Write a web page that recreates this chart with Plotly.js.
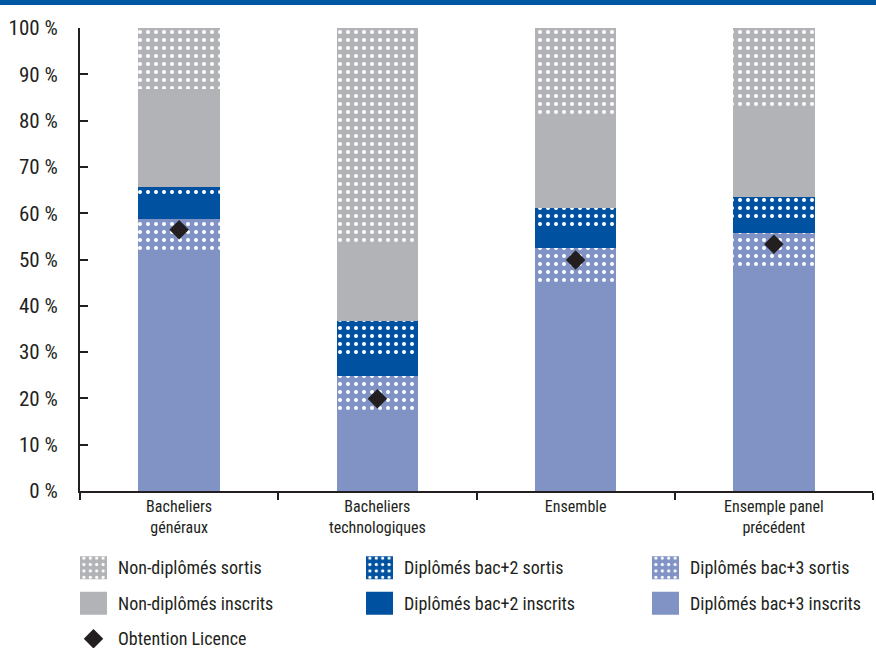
<!DOCTYPE html>
<html><head><meta charset="utf-8">
<script src="https://cdn.plot.ly/plotly-3.0.1.min.js"></script>
<style>
html,body{margin:0;padding:0;background:#fff}
#chart{width:876px;height:648px}
text.legendtext{font-size:18px !important;transform:translate(4.5px,-4.4px)}
.legendpoints path.legendbar, .legendpoints path.legendundefined{d:path("M13.5,11.5H-13.5V-11.5H13.5Z");transform:translate(20px,-1px)}
.legendpoints path.scatterpts{transform:translate(20px,-1px)}
</style>
</head><body><div id="chart"></div>
<script>
const categories = ["Bacheliers<br>généraux", "Bacheliers<br>technologiques", "Ensemble", "Ensemple panel<br>précédent"];
const bac3Inscrits = [51.4, 16.6, 45.0, 47.9];
const bac3Sortis   = [7.3, 8.2, 7.4, 7.9];
const bac2Inscrits = [4.8, 4.2, 4.2, 2.9];
const bac2Sortis   = [2.2, 7.8, 4.6, 4.7];
const nonDiplInscrits = [21.1, 17.0, 19.6, 19.8];
const nonDiplSortis   = [13.2, 46.2, 19.2, 16.8];
const obtentionLicence = [56.4, 19.9, 49.9, 53.3];

const LIGHT = "#8193c5", DARK = "#0052a1", GRAY = "#b2b3b6";
const FONT = "'Roboto Condensed', 'DejaVu Sans Condensed', sans-serif";

function bar(name, y, color, dotted, rank) {
  const m = {color: color, line: {width: 0}};
  if (dotted) m.pattern = {shape: ".", fgcolor: "#ffffff", bgcolor: color, size: 8, solidity: 0.2, fillmode: "replace"};
  return {type: "bar", name: name, x: categories, y: y, marker: m, legendrank: rank, hoverinfo: "y"};
}

const data = [
  bar("Diplômés bac+3 inscrits", bac3Inscrits, LIGHT, false, 6),
  bar("Diplômés bac+3 sortis", bac3Sortis, LIGHT, true, 3),
  bar("Diplômés bac+2 inscrits", bac2Inscrits, DARK, false, 5),
  bar("Diplômés bac+2 sortis", bac2Sortis, DARK, true, 2),
  bar("Non-diplômés inscrits", nonDiplInscrits, GRAY, false, 4),
  bar("Non-diplômés sortis", nonDiplSortis, GRAY, true, 1),
  {type: "scatter", mode: "markers", name: "Obtention Licence", x: categories, y: obtentionLicence,
   marker: {symbol: "diamond", size: 15, color: "#231f20"}, legendrank: 7, hoverinfo: "y"}
];

const layout = {
  width: 876, height: 648,
  margin: {l: 80, r: 3, t: 28, b: 157, autoexpand: false},
  paper_bgcolor: "#fff", plot_bgcolor: "#fff",
  font: {family: FONT, color: "#231f20", size: 16},
  barmode: "stack", bargap: 0.59,
  showlegend: true,
  legend: {orientation: "h", x: -0.0082, xanchor: "left", y: -0.1188, yanchor: "top",
           entrywidth: 241, entrywidthmode: "pixels", traceorder: "normal",
           font: {family: FONT, size: 25, color: "#231f20"}},
  xaxis: {type: "category", tickson: "boundaries", ticks: "outside", ticklen: 7, tickwidth: 2,
          tickcolor: "#231f20", showline: true, linecolor: "#231f20", linewidth: 2,
          showgrid: false, tickfont: {size: 16}, fixedrange: true},
  yaxis: {range: [0, 100], dtick: 10, ticksuffix: " %", ticks: "inside", ticklen: 8, tickwidth: 2,
          tickcolor: "#231f20", showline: true, linecolor: "#231f20", linewidth: 2,
          showgrid: false, zeroline: false, tickfont: {size: 21}, ticklabelstandoff: 16, fixedrange: true},
  shapes: [{type: "rect", xref: "paper", yref: "paper", x0: -80/793, x1: 1 + 3/793,
            y0: 1 + 23/463, y1: 1 + 28/463, fillcolor: "#0058a3", line: {width: 0}, layer: "above"}]
};
Plotly.newPlot("chart", data, layout, {displayModeBar: false, staticPlot: true});
</script></body></html>
